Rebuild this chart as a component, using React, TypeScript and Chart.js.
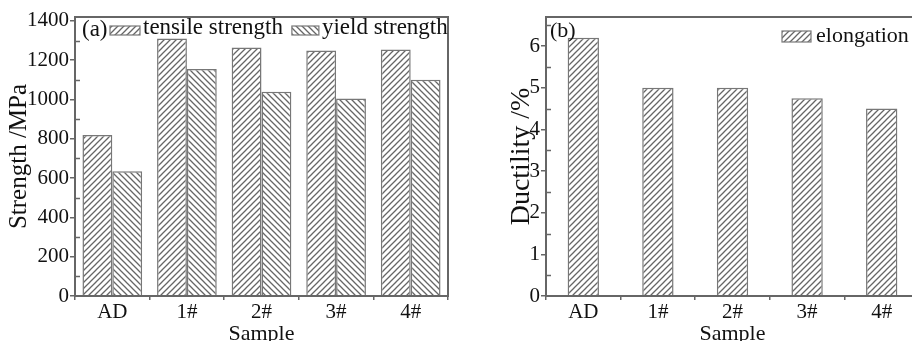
import React, { useEffect, useRef } from "react";
import { Chart, registerables } from "chart.js";

Chart.register(...registerables);

// ---- data ----
const samples = ["AD", "1#", "2#", "3#", "4#"];
const tensileStrength = [820, 1310, 1265, 1250, 1255];
const yieldStrength = [635, 1155, 1040, 1005, 1100];
const elongation = [6.2, 5.0, 5.0, 4.75, 4.5];
const strengthRange = [0, 1420];
const strengthStep = 200;
const ductilityRange = [0, 6.7];
const ductilityStep = 1;

const SERIF = "'Liberation Serif', 'Times New Roman', serif";
const AXIS = "#666666";
const HATCH = "#666666";
const TEXT = "#111111";

function hatch(ctx: CanvasRenderingContext2D, dir: 1 | -1, size = 6) {
  const c = document.createElement("canvas");
  c.width = size;
  c.height = size;
  const g = c.getContext("2d")!;
  g.fillStyle = "#ffffff";
  g.fillRect(0, 0, size, size);
  g.strokeStyle = HATCH;
  g.lineWidth = 1.3;
  g.beginPath();
  if (dir === 1) {
    g.moveTo(-1, size + 1);
    g.lineTo(size + 1, -1);
    g.moveTo(-1, 1);
    g.lineTo(1, -1);
    g.moveTo(size - 1, size + 1);
    g.lineTo(size + 1, size - 1);
  } else {
    g.moveTo(-1, -1);
    g.lineTo(size + 1, size + 1);
    g.moveTo(size - 1, -1);
    g.lineTo(size + 1, 1);
    g.moveTo(-1, size - 1);
    g.lineTo(1, size + 1);
  }
  g.stroke();
  return ctx.createPattern(c, "repeat")!;
}

const framePlugin = {
  id: "frame",
  afterDatasetsDraw(chart: any) {
    const { ctx, chartArea: a } = chart;
    const y = chart.scales.y;
    ctx.save();
    ctx.strokeStyle = AXIS;
    ctx.lineWidth = 2;
    ctx.strokeRect(a.left, a.top, a.right - a.left, a.bottom - a.top);
    // inward minor ticks halfway between major ticks
    const ticks = y.ticks.map((t: any) => t.value);
    const step = ticks.length > 1 ? ticks[1] - ticks[0] : 0;
    ctx.lineWidth = 1.5;
    for (let i = 0; i < ticks.length; i++) {
      const v = ticks[i] + step / 2;
      if (v >= y.max) continue;
      const py = Math.round(y.getPixelForValue(v)) + 0.5;
      ctx.beginPath();
      ctx.moveTo(a.left, py);
      ctx.lineTo(a.left + 5, py);
      ctx.stroke();
    }
    ctx.restore();
  },
};

const panelLegend = {
  id: "panelLegend",
  afterDraw(chart: any, _args: any, o: any) {
    const { ctx, chartArea: a } = chart;
    ctx.save();
    ctx.font = `${o.size}px ${SERIF}`;
    ctx.textAlign = "left";
    ctx.textBaseline = "alphabetic";
    ctx.fillStyle = TEXT;
    ctx.fillText(o.tag, a.left + o.tagOffset, a.top + o.tagBaseline);
    let x = a.left + o.itemsOffset;
    chart.data.datasets.forEach((ds: any, i: number) => {
      const bw = o.boxW[i];
      ctx.fillStyle = ds.backgroundColor;
      ctx.fillRect(x, a.top + o.boxTop, bw, o.boxH);
      ctx.strokeStyle = "#777777";
      ctx.lineWidth = 1.2;
      ctx.strokeRect(x, a.top + o.boxTop, bw, o.boxH);
      x += bw + o.gap;
      ctx.fillStyle = TEXT;
      ctx.fillText(ds.label, x, a.top + o.itemBaseline);
      x += ctx.measureText(ds.label).width + o.itemGap;
    });
    ctx.restore();
  },
};

function axes(opts: {
  range: number[];
  step: number;
  title: string;
  titleSize: number;
  axisWidth: number;
  titlePad: number;
}) {
  return {
    x: {
      type: "category" as const,
      afterFit: (s: any) => {
        s.height = 54;
      },
      grid: {
        drawOnChartArea: false,
        drawTicks: true,
        tickLength: 4,
        color: AXIS,
        lineWidth: 1.5,
      },
      border: { display: true, color: AXIS, width: 2 },
      ticks: {
        color: TEXT,
        font: { family: SERIF, size: 21 },
        padding: 0,
        maxRotation: 0,
      },
      title: {
        display: true,
        text: "Sample",
        color: TEXT,
        font: { family: SERIF, size: 22 },
        padding: { top: 0, bottom: 3 },
      },
    },
    y: {
      min: opts.range[0],
      max: opts.range[1],
      afterFit: (s: any) => {
        s.width = opts.axisWidth;
      },
      afterBuildTicks: (s: any) => {
        const t: { value: number }[] = [];
        for (let v = opts.range[0]; v <= opts.range[1] + 1e-9; v += opts.step) {
          t.push({ value: Math.round(v * 1000) / 1000 });
        }
        s.ticks = t;
      },
      grid: {
        drawOnChartArea: false,
        drawTicks: true,
        tickLength: 5,
        color: AXIS,
        lineWidth: 1.5,
      },
      border: { display: true, color: AXIS, width: 2 },
      ticks: {
        color: TEXT,
        font: { family: SERIF, size: 21 },
        padding: 1,
        callback: (v: any) => String(v),
      },
      title: {
        display: true,
        text: opts.title,
        color: TEXT,
        font: { family: SERIF, size: opts.titleSize },
        padding: { top: opts.titlePad, bottom: 0 },
      },
    },
  };
}

export default function App() {
  const refA = useRef<HTMLCanvasElement>(null);
  const refB = useRef<HTMLCanvasElement>(null);

  useEffect(() => {
    const ca = refA.current!;
    const cb = refB.current!;
    const ctxA = ca.getContext("2d")!;
    const ctxB = cb.getContext("2d")!;

    const chartA = new Chart(ca, {
      type: "bar",
      data: {
        labels: samples,
        datasets: [
          {
            label: "tensile strength",
            data: tensileStrength,
            backgroundColor: hatch(ctxA, 1) as any,
            borderColor: "#777777",
            borderWidth: 1.5,
            categoryPercentage: 0.8,
            barPercentage: 1.0,
          },
          {
            label: "yield strength",
            data: yieldStrength,
            backgroundColor: hatch(ctxA, -1) as any,
            borderColor: "#777777",
            borderWidth: 1.5,
            categoryPercentage: 0.8,
            barPercentage: 1.0,
          },
        ],
      },
      options: {
        responsive: false,
        animation: false,
        layout: { padding: { left: 0, right: 7, top: 17, bottom: 0 } },
        scales: axes({
          range: strengthRange,
          step: strengthStep,
          title: "Strength /MPa",
          titleSize: 25,
          axisWidth: 75,
          titlePad: 4,
        }) as any,
        plugins: {
          legend: { display: false },
          tooltip: { enabled: false },
          panelLegend: {
            size: 23,
            tag: "(a)",
            tagOffset: 7,
            tagBaseline: 19,
            itemsOffset: 35,
            itemBaseline: 17,
            boxW: [30, 27],
            boxTop: 9,
            boxH: 9,
            gap: 3,
            itemGap: 9,
          },
        } as any,
      },
      plugins: [framePlugin, panelLegend],
    });

    const chartB = new Chart(cb, {
      type: "bar",
      data: {
        labels: samples,
        datasets: [
          {
            label: "elongation",
            data: elongation,
            backgroundColor: hatch(ctxB, 1) as any,
            borderColor: "#777777",
            borderWidth: 1.5,
            categoryPercentage: 0.42,
            barPercentage: 1.0,
          },
        ],
      },
      options: {
        responsive: false,
        animation: false,
        layout: { padding: { left: 0, right: 1, top: 17, bottom: 0 } },
        scales: axes({
          range: ductilityRange,
          step: ductilityStep,
          title: "Ductility /%",
          titleSize: 28,
          axisWidth: 86,
          titlePad: 45,
        }) as any,
        plugins: {
          legend: { display: false },
          tooltip: { enabled: false },
          panelLegend: {
            size: 22,
            tag: "(b)",
            tagOffset: 4,
            tagBaseline: 20,
            itemsOffset: 236,
            itemBaseline: 25,
            boxW: [29],
            boxTop: 14,
            boxH: 11,
            gap: 5,
            itemGap: 9,
          },
        } as any,
      },
      plugins: [framePlugin, panelLegend],
    });

    return () => {
      chartA.destroy();
      chartB.destroy();
    };
  }, []);

  return (
    <div
      style={{
        position: "fixed",
        left: 0,
        top: 0,
        width: 912,
        height: 341,
        overflow: "hidden",
        background: "#ffffff",
      }}
    >
      <canvas
        ref={refA}
        width={455}
        height={350}
        style={{ position: "absolute", left: 0, top: 0, width: 455, height: 350 }}
      />
      <canvas
        ref={refB}
        width={460}
        height={350}
        style={{ position: "absolute", left: 460, top: 0, width: 460, height: 350 }}
      />
    </div>
  );
}
